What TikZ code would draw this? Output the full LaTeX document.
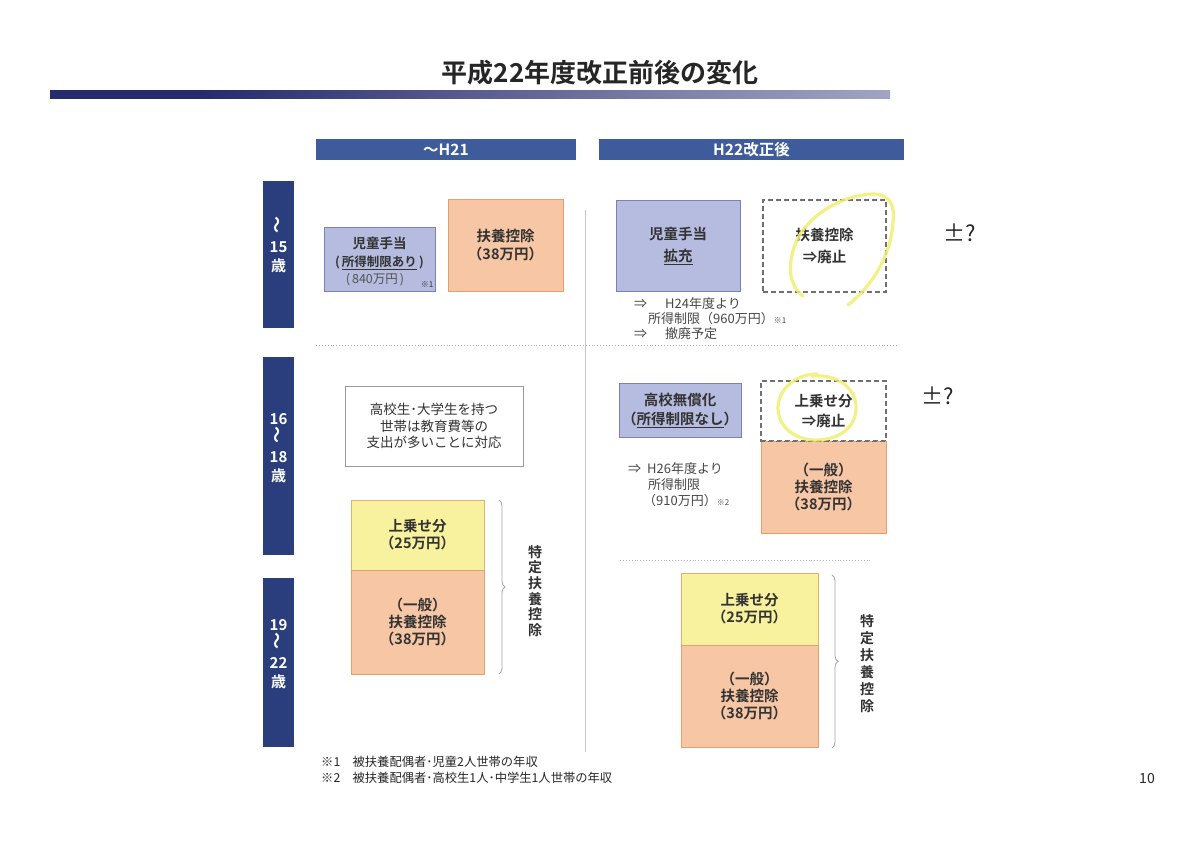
\documentclass[tikz,border=0pt]{standalone}
\usepackage{fontspec}
\setmainfont{Noto Sans CJK JP}[BoldFont={Noto Sans CJK JP Bold}]
\usetikzlibrary{decorations.pathreplacing}
\definecolor{navy}{HTML}{262B6B}
\definecolor{barlight}{HTML}{E8E8F3}
\definecolor{hdrblue}{HTML}{3E5C9C}
\definecolor{agenavy}{HTML}{2A3D7C}
\definecolor{kfill}{HTML}{B6BCE0}
\definecolor{kline}{HTML}{7B80B6}
\definecolor{ofill}{HTML}{F7C6A5}
\definecolor{oline}{HTML}{E2A06C}
\definecolor{yfill}{HTML}{F8F29E}
\definecolor{yline}{HTML}{E2B070}
\definecolor{dline}{HTML}{707070}
\definecolor{txt}{HTML}{333333}
\definecolor{hilite}{HTML}{F2EE70}
\pgfdeclarehorizontalshading{barshade}{100bp}{color(0bp)=(navy); color(34bp)=(navy); color(62bp)=(navy!55!barlight); color(100bp)=(barlight)}
\begin{document}
\begin{tikzpicture}[x=1pt,y=-1pt,
  box/.style={draw, line width=0.9pt, inner sep=0pt, align=center, text=txt,
    font=\bfseries\fontsize{14.5}{20}\selectfont},
  kbox/.style={box, fill=kfill, draw=kline},
  obox/.style={box, fill=ofill, draw=oline},
  ybox/.style={box, fill=yfill, draw=yline},
  dbox/.style={box, draw=dline, dash pattern=on 5pt off 3pt, line width=1.1pt},
  tbox/.style={box, draw=gray!80, line width=0.8pt, font=\fontsize{13.5}{16.5}\selectfont},
  hdr/.style={fill=hdrblue, inner sep=0pt, text=white, minimum height=21pt,
    font=\bfseries\fontsize{15.5}{17}\selectfont},
  agebar/.style={fill=agenavy, inner sep=0pt, minimum width=31pt},
  agetext/.style={inner sep=0pt, text=white, align=center, font=\bfseries\fontsize{15}{19}\selectfont},
  note/.style={anchor=west, inner sep=0pt, text=txt!90, font=\fontsize{13}{15}\selectfont},
  small/.style={inner sep=0pt, text=txt, font=\fontsize{8}{9}\selectfont},
  vlabel/.style={inner sep=0pt, align=center, text=txt, font=\bfseries\fontsize{14}{15.6}\selectfont},
  brc/.style={draw=gray!70, line width=0.8pt, decorate, decoration={brace, amplitude=6pt, aspect=0.5}},
  foot/.style={anchor=west, inner sep=0pt, text=black!85, font=\fontsize{12.3}{14}\selectfont},
  hand/.style={inner sep=0pt, text=black!85, font=\fontsize{22}{24}\selectfont},
  hl/.style={draw=hilite, line width=3.2pt, opacity=0.85, line cap=round}
]
\newcommand{\vwave}{\rotatebox{90}{\fontsize{17}{17}\selectfont ～}}
\useasboundingbox (0,0) rectangle (1200,848);
\fill[white] (0,0) rectangle (1200,848);

% title and bar
\node[inner sep=0pt, text=black!85, font=\bfseries\fontsize{26}{30}\selectfont] (title) at (600,73) {平成22年度改正前後の変化};
\shade[shading=barshade] (50,91) rectangle (890,99);

% column headers
\node[hdr, minimum width=260pt] (hL) at (446,149.5) {～H21};
\node[hdr, minimum width=305pt] (hR) at (751.5,149.5) {H22改正後};

% age bars
\node[agebar, minimum height=147pt] (age1) at (278.5,254.5) {};
\node[agetext] (age1t) at (278.5,245) {\vwave\\15\\歳};
\node[agebar, minimum height=198pt] (age2) at (278.5,456) {};
\node[agetext] (age2t) at (278.5,448) {16\\\vwave\\18\\歳};
\node[agebar, minimum height=169pt] (age3) at (278.5,662.5) {};
\node[agetext] (age3t) at (278.5,654) {19\\\vwave\\22\\歳};

% separators
\draw[gray!45, line width=0.8pt] (585,210) -- (585,752);
\draw[gray!60, line width=0.9pt, dotted] (316,345) -- (898,345);
\draw[gray!60, line width=0.9pt, dotted] (620,560) -- (872,560);

% ---- top left
\node[kbox, minimum width=111pt, minimum height=64pt, font=\bfseries\fontsize{13}{18.5}\selectfont] (kL) at (379.5,259) {};
\node[inner sep=0pt, text=txt, font=\bfseries\fontsize{13.5}{15}\selectfont] (kL1) at (379.5,243) {児童手当};
\node[inner sep=0pt, text=txt, font=\bfseries\fontsize{12.5}{15}\selectfont] (kL2) at (379.5,263) {(\,\underline{所得制限あり}\,)};
\node[inner sep=0pt, text=txt!85, font=\fontsize{12.5}{15}\selectfont] (kL3) at (375,280) {(\,840万円\,)};
\node[small] (kLn) at (427,285) {※1};
\node[obox, minimum width=115pt, minimum height=92pt] (fL) at (505.5,245) {扶養控除\\[-2pt]（38万円）};

% ---- top right
\node[kbox, minimum width=124pt, minimum height=91pt] (kR) at (678,245.5) {児童手当\\[2pt]\underline{拡充}};
\node[dbox, minimum width=123pt, minimum height=92pt] (fR) at (824.5,246) {扶養控除\\[2pt]⇒廃止};
\node[note] (n1) at (634,304) {⇒\hspace{18pt}H24年度より};
\node[note] (n2) at (648,319) {所得制限（960万円）{\fontsize{8}{9}\selectfont ※1}};
\node[note] (n3) at (634,334) {⇒\hspace{18pt}撤廃予定};
\draw[hl] (803,296) .. controls (790,287) and (785,265) .. (798,238)
  .. controls (812,212) and (845,195) .. (872,194)
  .. controls (890,194) and (895,205) .. (893,222)
  .. controls (891,255) and (873,285) .. (848,305);

% ---- middle left
\node[tbox, minimum width=178pt, minimum height=80pt] (tL) at (434,426)
  {高校生･大学生を持つ\\世帯は教育費等の\\支出が多いことに対応};
\node[ybox, minimum width=133pt, minimum height=70pt] (yL) at (417.5,535) {上乗せ分\\[-3pt]（25万円）};
\node[obox, minimum width=133pt, minimum height=104pt] (oL) at (417.5,622) {（一般）\\[-3pt]扶養控除\\[-3pt]（38万円）};
\coordinate (bL1) at (499,500);
\coordinate (bL2) at (499,674);
\draw[brc] (bL1) -- (bL2);
\node[vlabel] (sL) at (535,591) {特\\定\\扶\\養\\控\\除};

% ---- middle right
\node[kbox, minimum width=122pt, minimum height=54pt] (mR) at (680,410) {高校無償化\\[-1pt]（\underline{所得制限なし}）};
\node[dbox, minimum width=125pt, minimum height=60pt] (dR) at (823.5,411) {上乗せ分\\[0pt]⇒廃止};
\node[obox, minimum width=125pt, minimum height=92pt] (oR) at (823.5,487) {（一般）\\[-3pt]扶養控除\\[-3pt]（38万円）};
\draw[dline, dash pattern=on 5pt off 3pt, line width=1.1pt] (dR.south west) -- (dR.south east);
\node[note] (n4) at (628,469) {⇒\hspace{6pt}H26年度より};
\node[note] (n5) at (648,485) {所得制限};
\node[note] (n6) at (643,501) {（910万円）{\fontsize{8}{9}\selectfont ※2}};
\draw[hl] (817,374) .. controls (795,374) and (778,390) .. (778,408)
  .. controls (778,428) and (797,441) .. (818,440)
  .. controls (842,439) and (857,425) .. (856,406)
  .. controls (855,388) and (838,374) .. (812,376);

% ---- bottom right
\node[ybox, minimum width=137pt, minimum height=72pt] (yR) at (749.5,609) {上乗せ分\\[-3pt]（25万円）};
\node[obox, minimum width=137pt, minimum height=102pt] (oR2) at (749.5,696) {（一般）\\[-3pt]扶養控除\\[-3pt]（38万円）};
\coordinate (bR1) at (832,575);
\coordinate (bR2) at (832,748);
\draw[brc] (bR1) -- (bR2);
\node[vlabel, font=\bfseries\fontsize{14}{17}\selectfont] (sR) at (867,664) {特\\定\\扶\\養\\控\\除};

% footnotes
\node[foot] (f1) at (321,762) {※1\quad 被扶養配偶者･児童2人世帯の年収};
\node[foot] (f2) at (321,778) {※2\quad 被扶養配偶者･高校生1人･中学生1人世帯の年収};
\node[inner sep=0pt, text=black!85, font=\fontsize{14}{15}\selectfont] (pg) at (1147,779) {10};

% handwritten notes
\node[hand] (h1) at (960,233) {±?};
\node[hand] (h2) at (938,396) {±?};
\end{tikzpicture}
\end{document}
